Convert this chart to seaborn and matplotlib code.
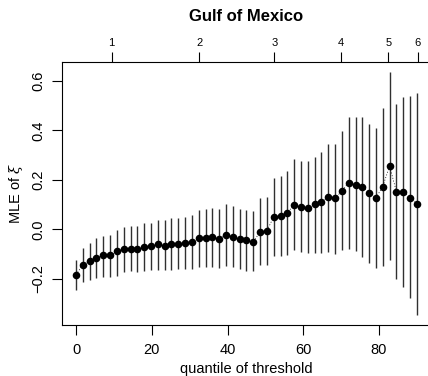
import matplotlib
matplotlib.use("Agg")
import matplotlib.pyplot as plt
import seaborn as sns
import pandas as pd

# quantile of threshold (x positions of the fits)
quantile = [0.0, 1.8, 3.6, 5.4, 7.2, 9.0, 10.8, 12.6, 14.4, 16.2,
            18.0, 19.8, 21.6, 23.4, 25.2, 27.0, 28.8, 30.6, 32.4, 34.2,
            36.0, 37.8, 39.6, 41.4, 43.2, 45.0, 46.8, 48.6, 50.4, 52.2,
            54.0, 55.8, 57.6, 59.4, 61.2, 63.0, 64.8, 66.6, 68.4, 70.2,
            72.0, 73.8, 75.6, 77.4, 79.2, 81.0, 82.8, 84.6, 86.4, 88.2, 90.0]

# MLE of xi
xi_hat = [-0.183, -0.143, -0.126, -0.114, -0.105, -0.104, -0.089, -0.080, -0.079, -0.079,
          -0.073, -0.068, -0.061, -0.066, -0.057, -0.057, -0.055, -0.049, -0.034, -0.034,
          -0.030, -0.039, -0.021, -0.030, -0.039, -0.043, -0.052, -0.009, -0.006, 0.051,
          0.055, 0.068, 0.099, 0.092, 0.088, 0.102, 0.109, 0.130, 0.126, 0.155,
          0.189, 0.181, 0.173, 0.147, 0.128, 0.173, 0.256, 0.152, 0.152, 0.128, 0.103]

# upper confidence limits
xi_upper = [-0.124, -0.075, -0.053, -0.035, -0.026, -0.024, -0.002, 0.011, 0.014, 0.014,
            0.024, 0.025, 0.038, 0.037, 0.044, 0.046, 0.050, 0.057, 0.079, 0.081,
            0.088, 0.081, 0.101, 0.095, 0.081, 0.079, 0.075, 0.125, 0.131, 0.208,
            0.216, 0.236, 0.286, 0.276, 0.278, 0.294, 0.311, 0.344, 0.344, 0.398,
            0.452, 0.452, 0.452, 0.427, 0.409, 0.489, 0.636, 0.506, 0.536, 0.537, 0.550]

# lower confidence limits
xi_lower = [-0.244, -0.214, -0.204, -0.196, -0.192, -0.192, -0.190, -0.171, -0.170, -0.171,
            -0.167, -0.165, -0.164, -0.164, -0.163, -0.161, -0.161, -0.161, -0.150, -0.150,
            -0.150, -0.157, -0.147, -0.152, -0.161, -0.166, -0.170, -0.143, -0.143, -0.108,
            -0.107, -0.103, -0.085, -0.092, -0.097, -0.096, -0.096, -0.092, -0.099, -0.085,
            -0.080, -0.089, -0.112, -0.134, -0.157, -0.147, -0.125, -0.202, -0.234, -0.279, -0.345]

# top axis: threshold values
top_tick_pos = [9.4, 32.6, 52.4, 70.0, 82.5, 90.2]
top_tick_labels = ["1", "2", "3", "4", "5", "6"]

x_ticks = [0, 20, 40, 60, 80]
y_ticks = [-0.2, 0.0, 0.2, 0.4, 0.6]
y_tick_labels = ["\u22120.2", "0.0", "0.2", "0.4", "0.6"]

df = pd.DataFrame({"q": quantile, "xi": xi_hat, "lo": xi_lower, "hi": xi_upper})

sns.set_style("ticks")
plt.rcParams["font.family"] = ["Liberation Sans", "DejaVu Sans"]
plt.rcParams["mathtext.fontset"] = "custom"
plt.rcParams["mathtext.it"] = "DejaVu Serif:italic"
for key in ["text.color", "axes.labelcolor", "xtick.color", "ytick.color",
            "xtick.labelcolor", "ytick.labelcolor", "axes.edgecolor"]:
    plt.rcParams[key] = "black"

fig = plt.figure(figsize=(4.28, 3.76), dpi=100)
ax = fig.add_axes([62.4 / 428, 1 - 324.5 / 376, 368.1 / 428, 262.3 / 376])

ax.vlines(df["q"], df["lo"], df["hi"], color="#303030", linewidth=1.0, zorder=1)
ax.plot(df["q"], df["xi"], color="black", linewidth=0.5, linestyle=(0, (1.5, 2.5)), zorder=1.5)
sns.scatterplot(data=df, x="q", y="xi", ax=ax, color="black", s=30,
                edgecolor="black", linewidth=0, zorder=2, legend=False)

ax.set_xlim(-3.6, 93.6)
ax.set_ylim(-0.384, 0.675)

ax.set_xticks(x_ticks)
ax.set_xticklabels([str(t) for t in x_ticks], fontsize=10.5)
ax.set_yticks(y_ticks)
ax.set_yticklabels(y_tick_labels, fontsize=10.5, rotation=90, va="center")

ax.tick_params(axis="both", direction="out", length=7.5, width=0.8, color="black",
               labelcolor="black")
ax.tick_params(axis="x", pad=5.5)
ax.tick_params(axis="y", pad=5)

for s in ax.spines.values():
    s.set_visible(True)
    s.set_linewidth(0.8)
    s.set_color("black")

ax.set_xlabel("quantile of threshold", fontsize=10.5, labelpad=4, color="black")
ax.set_ylabel(r"MLE of $\xi$", fontsize=10.5, labelpad=4, color="black")

sec = ax.secondary_xaxis("top")
sec.set_xticks(top_tick_pos)
sec.set_xticklabels(top_tick_labels, fontsize=8)
sec.tick_params(direction="out", length=7.5, width=0.8, pad=2.5, color="black",
                labelcolor="black")
sec.spines["top"].set_visible(False)

fig.text(246.5 / 428, 1 - 20.7 / 376, "Gulf of Mexico", ha="center", va="baseline",
         fontsize=12, fontweight="bold", color="black")

fig.savefig("out.png", dpi=100)
